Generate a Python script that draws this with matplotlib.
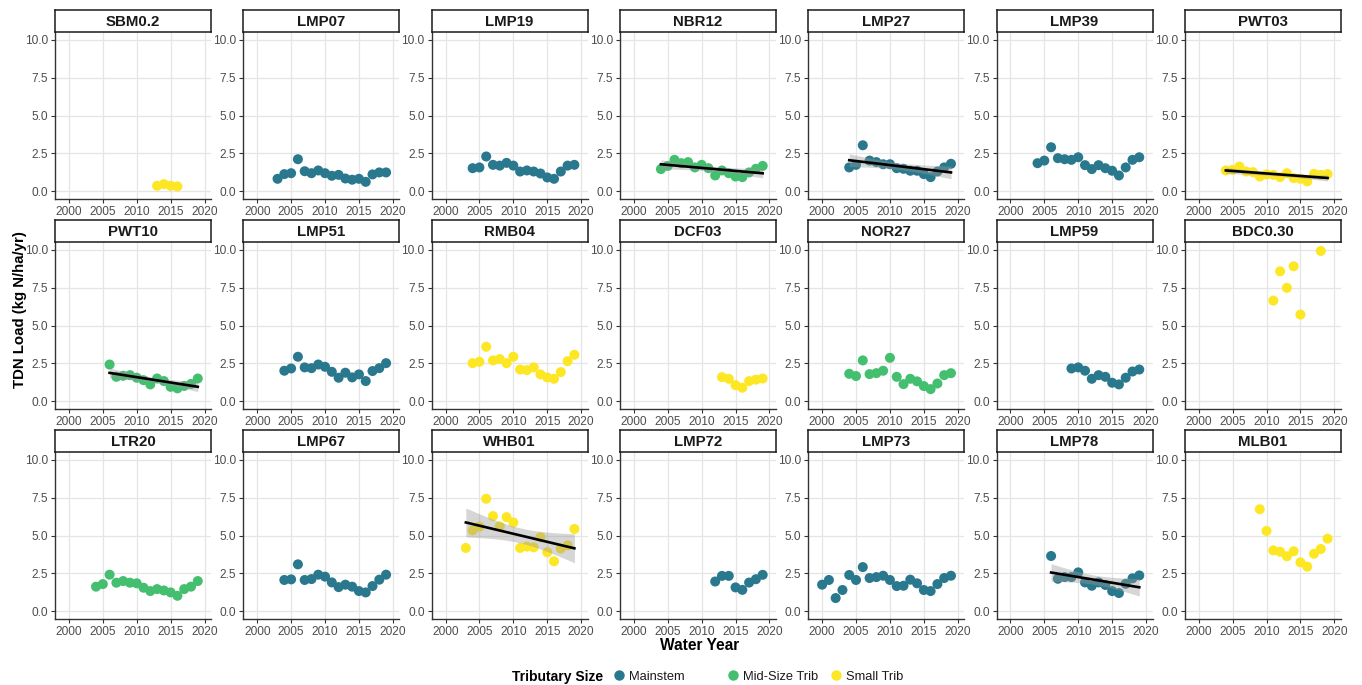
import numpy as np
import matplotlib.pyplot as plt
from matplotlib.lines import Line2D

plt.rcParams['font.family'] = ['Liberation Sans', 'DejaVu Sans']

# TDN load (kg N/ha/yr) by water year, one pair of lists per site
sbm02_yr = [2013, 2014, 2015, 2016]
sbm02 = [0.37, 0.48, 0.37, 0.33]
lmp07_yr = list(range(2003, 2020))
lmp07 = [0.83, 1.14, 1.2, 2.12, 1.33, 1.2, 1.38, 1.2, 1.03, 1.09, 0.85, 0.77, 0.83, 0.63, 1.12, 1.25, 1.25]
lmp19_yr = list(range(2004, 2020))
lmp19 = [1.53, 1.58, 2.3, 1.75, 1.7, 1.88, 1.7, 1.31, 1.38, 1.31, 1.18, 0.92, 0.83, 1.31, 1.7, 1.75]
nbr12_yr = list(range(2004, 2020))
nbr12 = [1.47, 1.68, 2.08, 1.86, 1.93, 1.58, 1.75, 1.53, 1.05, 1.38, 1.2, 0.98, 0.94, 1.25, 1.49, 1.68]
lmp27_yr = list(range(2004, 2020))
lmp27 = [1.58, 1.75, 3.04, 2.03, 1.93, 1.79, 1.79, 1.53, 1.49, 1.36, 1.36, 1.14, 0.94, 1.31, 1.58, 1.82]
lmp39_yr = list(range(2004, 2020))
lmp39 = [1.86, 2.03, 2.91, 2.19, 2.12, 2.08, 2.25, 1.73, 1.47, 1.73, 1.53, 1.36, 1.05, 1.58, 2.08, 2.25]
pwt03_yr = list(range(2004, 2020))
pwt03 = [1.38, 1.42, 1.64, 1.31, 1.27, 0.98, 1.12, 1.09, 0.94, 1.2, 0.88, 0.83, 0.66, 1.16, 1.09, 1.14]

pwt10_yr = list(range(2006, 2020))
pwt10 = [2.43, 1.62, 1.69, 1.73, 1.56, 1.4, 1.12, 1.51, 1.34, 0.96, 0.86, 1.02, 1.15, 1.51]
lmp51_yr = list(range(2004, 2020))
lmp51 = [2.02, 2.17, 2.94, 2.24, 2.19, 2.43, 2.28, 1.95, 1.56, 1.89, 1.58, 1.78, 1.34, 2.0, 2.19, 2.52]
rmb04_yr = list(range(2004, 2020))
rmb04 = [2.52, 2.61, 3.6, 2.7, 2.79, 2.52, 2.94, 2.1, 2.06, 2.24, 1.78, 1.58, 1.49, 1.93, 2.65, 3.07]
dcf03_yr = list(range(2013, 2020))
dcf03 = [1.6, 1.49, 1.07, 0.9, 1.34, 1.43, 1.51]
nor27_yr = list(range(2004, 2020))
nor27 = [1.82, 1.67, 2.7, 1.8, 1.86, 2.02, 2.87, 1.62, 1.14, 1.49, 1.32, 1.01, 0.81, 1.18, 1.73, 1.86]
lmp59_yr = list(range(2009, 2020))
lmp59 = [2.17, 2.24, 2.02, 1.49, 1.73, 1.62, 1.23, 1.12, 1.56, 1.97, 2.1]
bdc030_yr = [2011, 2012, 2013, 2014, 2015, 2018]
bdc030 = [6.64, 8.57, 7.48, 8.9, 5.72, 9.91]

ltr20_yr = list(range(2004, 2020))
ltr20 = [1.63, 1.8, 2.42, 1.89, 2.0, 1.89, 1.85, 1.56, 1.34, 1.47, 1.38, 1.25, 1.03, 1.47, 1.63, 2.0]
lmp67_yr = list(range(2004, 2020))
lmp67 = [2.07, 2.11, 3.1, 2.07, 2.13, 2.42, 2.29, 1.91, 1.6, 1.76, 1.63, 1.34, 1.25, 1.67, 2.09, 2.42]
whb01_yr = list(range(2003, 2020))
whb01 = [4.18, 5.34, 5.58, 7.42, 6.28, 5.6, 6.21, 5.86, 4.18, 4.27, 4.22, 4.88, 3.9, 3.3, 4.14, 4.35, 5.43]
lmp72_yr = list(range(2012, 2020))
lmp72 = [1.97, 2.34, 2.34, 1.58, 1.42, 1.9, 2.12, 2.41]
lmp73_yr = list(range(2000, 2020))
lmp73 = [1.76, 2.07, 0.88, 1.41, 2.4, 2.07, 2.92, 2.2, 2.26, 2.35, 2.07, 1.67, 1.69, 2.09, 1.85, 1.41, 1.34, 1.8, 2.2, 2.35]
lmp78_yr = list(range(2006, 2020))
lmp78 = [3.65, 2.15, 2.26, 2.26, 2.57, 1.91, 1.69, 1.91, 1.74, 1.34, 1.21, 1.82, 2.18, 2.37]
mlb01_yr = list(range(2009, 2020))
mlb01 = [6.73, 5.3, 4.02, 3.93, 3.63, 3.96, 3.23, 2.95, 3.8, 4.11, 4.79]

size_levels = ['Mainstem', 'Mid-Size Trib', 'Small Trib']
size_colors = ['#2A788E', '#44BF70', '#FDE725']

# facet order, tributary size and whether a linear trend is drawn
sites = [
    ('SBM0.2', 'Small Trib', sbm02_yr, sbm02, False),
    ('LMP07', 'Mainstem', lmp07_yr, lmp07, False),
    ('LMP19', 'Mainstem', lmp19_yr, lmp19, False),
    ('NBR12', 'Mid-Size Trib', nbr12_yr, nbr12, True),
    ('LMP27', 'Mainstem', lmp27_yr, lmp27, True),
    ('LMP39', 'Mainstem', lmp39_yr, lmp39, False),
    ('PWT03', 'Small Trib', pwt03_yr, pwt03, True),
    ('PWT10', 'Mid-Size Trib', pwt10_yr, pwt10, True),
    ('LMP51', 'Mainstem', lmp51_yr, lmp51, False),
    ('RMB04', 'Small Trib', rmb04_yr, rmb04, False),
    ('DCF03', 'Small Trib', dcf03_yr, dcf03, False),
    ('NOR27', 'Mid-Size Trib', nor27_yr, nor27, False),
    ('LMP59', 'Mainstem', lmp59_yr, lmp59, False),
    ('BDC0.30', 'Small Trib', bdc030_yr, bdc030, False),
    ('LTR20', 'Mid-Size Trib', ltr20_yr, ltr20, False),
    ('LMP67', 'Mainstem', lmp67_yr, lmp67, False),
    ('WHB01', 'Small Trib', whb01_yr, whb01, True),
    ('LMP72', 'Mainstem', lmp72_yr, lmp72, False),
    ('LMP73', 'Mainstem', lmp73_yr, lmp73, False),
    ('LMP78', 'Mainstem', lmp78_yr, lmp78, True),
    ('MLB01', 'Small Trib', mlb01_yr, mlb01, False),
]

# two-sided 95% t quantiles
t975 = {9: 2.262, 10: 2.228, 11: 2.201, 12: 2.179, 13: 2.160, 14: 2.145, 15: 2.131, 16: 2.120, 17: 2.110, 18: 2.101}


def lm_fit(x, y):
    x = np.asarray(x, float)
    y = np.asarray(y, float)
    n = len(x)
    b, a = np.polyfit(x, y, 1)
    resid = y - (a + b * x)
    s = np.sqrt(np.sum(resid ** 2) / (n - 2))
    xs = np.linspace(x.min(), x.max(), 80)
    fit = a + b * xs
    se = s * np.sqrt(1.0 / n + (xs - x.mean()) ** 2 / np.sum((x - x.mean()) ** 2))
    t = t975.get(n - 2, 2.1)
    return xs, fit, fit - t * se, fit + t * se


W, H = 1362, 685
fig = plt.figure(figsize=(W / 100, H / 100), dpi=100)

col_left = [55 + 188.3 * i for i in range(7)]
row_top = [10, 220, 430]
strip_h = 22
panel_w = 156
panel_h = 167

for k, (name, size, yrs, vals, trend) in enumerate(sites):
    r, c = divmod(k, 7)
    x0 = col_left[c]
    y_top = row_top[r]
    ax = fig.add_axes([x0 / W, (H - y_top - strip_h - panel_h) / H, panel_w / W, panel_h / H])
    ax.set_xlim(1997.95, 2020.95)
    ax.set_ylim(-0.5, 10.5)
    ax.set_xticks([2000, 2005, 2010, 2015, 2020])
    ax.set_yticks([0, 2.5, 5, 7.5, 10])
    ax.set_yticklabels(['0.0', '2.5', '5.0', '7.5', '10.0'])
    ax.grid(True, color='#E5E5E5', linewidth=0.9)
    ax.set_axisbelow(True)
    for side in ['top', 'right']:
        ax.spines[side].set_visible(False)
    for side in ['left', 'bottom']:
        ax.spines[side].set_color('#333333')
        ax.spines[side].set_linewidth(1.0)
    ax.tick_params(colors='#333333', labelcolor='#4D4D4D', labelsize=8.6, length=3, width=0.8, pad=2)

    col = size_colors[size_levels.index(size)]
    ax.scatter(yrs, vals, s=52, color=col, edgecolors='none', zorder=3)
    if trend:
        xs, fit, lo, hi = lm_fit(yrs, vals)
        ax.fill_between(xs, lo, hi, color='#999999', alpha=0.4, linewidth=0, zorder=4)
        ax.plot(xs, fit, color='black', linewidth=1.9, zorder=5)

    # facet strip
    sax = fig.add_axes([x0 / W, (H - y_top - strip_h) / H, panel_w / W, strip_h / H])
    sax.set_xticks([])
    sax.set_yticks([])
    for sp in sax.spines.values():
        sp.set_color('#1A1A1A')
        sp.set_linewidth(1.1)
    sax.text(0.5, 0.45, name, ha='center', va='center', fontsize=10.8, fontweight='bold',
             color='#1A1A1A', transform=sax.transAxes)

fig.text(20 / W, 1 - 310 / H, 'TDN Load (kg N/ha/yr)', rotation=90, ha='center', va='center',
         fontsize=10.8, fontweight='bold')
fig.text(700 / W, 1 - 645 / H, 'Water Year', ha='center', va='center', fontsize=11.2, fontweight='bold')

# legend row along the bottom
leg_y = 1 - 675 / H
fig.text(603 / W, leg_y, 'Tributary Size', ha='right', va='center_baseline', fontsize=10, fontweight='bold')
key_x = [619, 733, 836]
for kx, lab, c in zip(key_x, size_levels, size_colors):
    fig.add_artist(Line2D([kx / W], [leg_y], linestyle='none', marker='o', markersize=7.5,
                          color=c, markeredgewidth=0, transform=fig.transFigure))
    fig.text((kx + 10) / W, leg_y, lab, ha='left', va='center_baseline', fontsize=9.3, color='#1A1A1A')

fig.savefig('out.png', dpi=100)
